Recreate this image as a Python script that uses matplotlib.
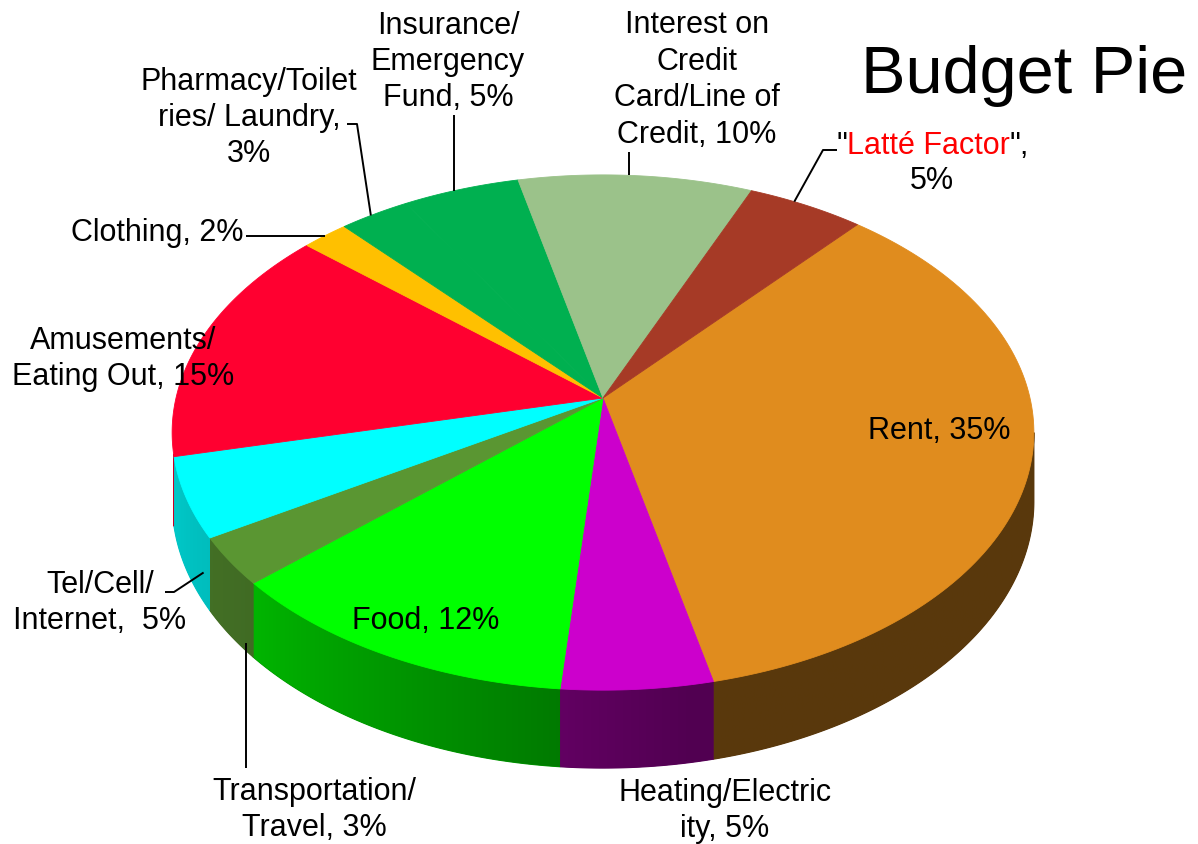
import numpy as np
import matplotlib
matplotlib.use('Agg')
import matplotlib.pyplot as plt
from matplotlib.patches import Polygon
from matplotlib.colors import to_rgb

# slices in clockwise order, starting from the Rent slice
label_fmt = ['Rent, {}%', 'Heating/Electric\nity, {}%', 'Food, {}%',
             'Transportation/\nTravel, {}%', 'Tel/Cell/\nInternet,  {}%',
             'Amusements/\nEating Out, {}%', 'Clothing, {}%',
             'Pharmacy/Toilet\nries/ Laundry,\n{}%', 'Insurance/\nEmergency\nFund, {}%',
             'Interest on\nCredit\nCard/Line of\nCredit, {}%', '"Latté Factor",\n{}%']
shares = [35, 5, 12, 3, 5, 15, 2, 3, 5, 10, 5]
slice_colors = ['#E08C1E', '#CC00CC', '#00FF00', '#5A9632', '#00FFFF', '#FF0030',
                '#FFC000', '#00B050', '#00B050', '#9BC28A', '#A63A26']

# label placement (pixels, y down)
label_pos = [(939, 431), (725, 811), (426, 621), (314, 810), (100, 603), (123, 359),
             (157, 233), (249, 118), (448, 62), (697, 80), (932, 160)]
# leader lines: slice index -> (angle on pie, depth 0..1, elbow points; None = take anchor coord)
leaders = {
    3: (229.8, 0.9, [(None, 768)]),
    4: (241.0, 0.6, [(165, 592), (174, 592)]),
    6: (314.6, 0.0, [(246, None)]),
    7: (323.0, 0.0, [(347, 124), (357, 124)]),
    8: (337.0, 0.0, [(None, 115)]),
    9: (4.0, 0.0, [(None, 152)]),
    10: (30.0, 0.0, [(837, 150), (823, 150)]),
}

# pie geometry (pixels)
CX, CY, RX, RY, K, DEPTH = 603, 398, 427, 253, 0.134, 67.5
START = 41.0
SIDE_FROM, SIDE_TO = 97.7, 257.5
FONT = ['Liberation Sans', 'DejaVu Sans']


def project(theta_deg, z=0.0):
    t = np.radians(theta_deg)
    u, v = np.sin(t), np.cos(t)
    w = 1 + K * v
    return CX + RX * u / w, CY - RY * v / w + z * DEPTH / w


def side_shade(theta):
    return np.interp(theta, [90, 170, 230, 270], [0.40, 0.40, 0.72, 0.82])


fig = plt.figure(figsize=(11.98, 8.44), dpi=100)
ax = fig.add_axes([0, 0, 1, 1])
ax.set_xlim(0, 1198)
ax.set_ylim(844, 0)
ax.axis('off')

bounds = START + 3.6 * np.concatenate([[0], np.cumsum(shares)])

# side walls (visible front part only), shaded left to right
for i, col in enumerate(slice_colors):
    a, b = bounds[i], bounds[i + 1]
    base = np.array(to_rgb(col))
    for off in (0, 360, -360):
        lo, hi = max(a + off, SIDE_FROM), min(b + off, SIDE_TO)
        if hi <= lo:
            continue
        ts = np.linspace(lo, hi, 200)
        top = np.array([project(t) for t in ts])
        bot = np.array([project(t, 1) for t in ts])
        pts = np.vstack([top, bot[::-1]])
        mid = base * side_shade(0.5 * (lo + hi))
        patch = Polygon(pts, closed=True, facecolor=mid, edgecolor=mid, lw=0.8)
        ax.add_patch(patch)
        x0, x1 = pts[:, 0].min(), pts[:, 0].max()
        y0, y1 = pts[:, 1].min(), pts[:, 1].max()
        xs = np.linspace(x0, x1, 300)
        th = np.interp(xs, top[::-1, 0], ts[::-1])
        img = (base[None, :] * side_shade(th)[:, None])[None, :, :]
        im = ax.imshow(img, extent=(x0, x1, y1, y0), aspect='auto',
                       interpolation='bilinear', zorder=1.5)
        im.set_clip_path(patch)

# top face
for i, col in enumerate(slice_colors):
    ts = np.linspace(bounds[i], bounds[i + 1], 120)
    pts = [(CX, CY)] + [project(t) for t in ts]
    ax.add_patch(Polygon(pts, closed=True, facecolor=col, edgecolor=col, lw=0.6, zorder=2))

# labels
for i, fmt in enumerate(label_fmt):
    x, y = label_pos[i]
    if i == 10:
        first, second = fmt.format(shares[i]).split('\n')
        t1 = ax.text(836, 146, '"', fontsize=22, family=FONT, ha='left', va='center', zorder=3)
        t2 = ax.annotate('Latté Factor', xy=(1, 0), xycoords=t1, fontsize=22, family=FONT,
                         ha='left', va='bottom', color='#FF0000', zorder=3)
        ax.annotate('",', xy=(1, 0), xycoords=t2, fontsize=22, family=FONT,
                    ha='left', va='bottom', zorder=3)
        ax.text(x, 181, second, fontsize=22, family=FONT, ha='center', va='center', zorder=3)
        continue
    ax.text(x, y, fmt.format(shares[i]), fontsize=22, family=FONT, ha='center',
            va='center', multialignment='center', linespacing=1.28, zorder=3)

for i, (theta, z, elbows) in leaders.items():
    ax_, ay_ = project(theta, z)
    pts = [(ax_ if ex is None else ex, ay_ if ey is None else ey) for ex, ey in elbows]
    pts.append((ax_, ay_))
    xs, ys = zip(*pts)
    ax.plot(xs, ys, color='black', lw=1.4, solid_capstyle='butt', zorder=3)

ax.text(1024, 93, 'Budget Pie', fontsize=48, family=FONT, ha='center', va='baseline')

fig.savefig('out.png', dpi=100)
